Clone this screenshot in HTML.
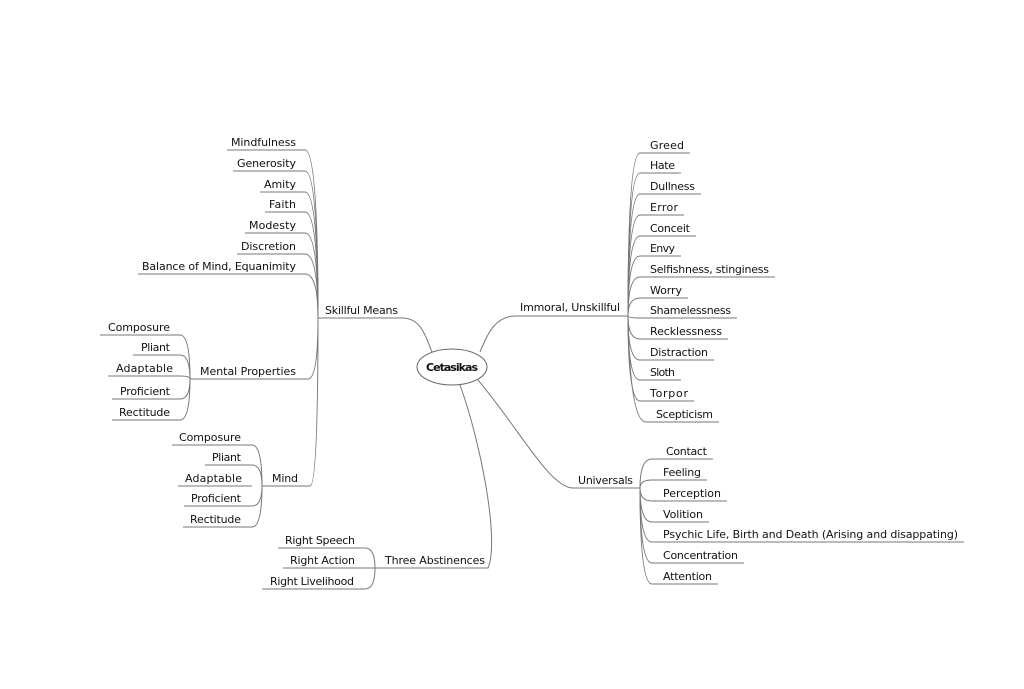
<!DOCTYPE html>
<html><head><meta charset="utf-8"><style>
html,body{margin:0;padding:0;background:#fff;}
svg{display:block;}
text{font-family:"DejaVu Sans","Liberation Sans",sans-serif;font-size:11px;fill:#111;}
path,line{stroke:#777;stroke-width:1;fill:none;}
</style></head><body>
<svg width="1024" height="689" viewBox="0 0 1024 689">
<!-- center -->
<ellipse cx="452" cy="367" rx="35" ry="18" fill="#fff" stroke="#666"/>
<text x="452" y="371" text-anchor="middle" style="font-weight:bold" textLength="52">Cetasikas</text>

<!-- Skillful Means -->
<path d="M318,318 H402 C422,318 426,338 432,352"/>
<text x="325" y="314" textLength="73">Skillful Means</text>
<g>
<path d="M227,150 H305 Q318,150 318,318"/><text x="296" y="146" text-anchor="end" textLength="65">Mindfulness</text>
<path d="M233,171 H305 Q318,171 318,318"/><text x="296" y="167" text-anchor="end" textLength="59">Generosity</text>
<path d="M260,192 H305 Q318,192 318,318"/><text x="296" y="188" text-anchor="end" textLength="32">Amity</text>
<path d="M265,212 H305 Q318,212 318,318"/><text x="296" y="208" text-anchor="end" textLength="27">Faith</text>
<path d="M245,233 H305 Q318,233 318,318"/><text x="296" y="229" text-anchor="end" textLength="47">Modesty</text>
<path d="M237,254 H305 Q318,254 318,318"/><text x="296" y="250" text-anchor="end" textLength="55">Discretion</text>
<path d="M138,274 H305 Q318,274 318,318"/><text x="296" y="270" text-anchor="end" textLength="154">Balance of Mind, Equanimity</text>
</g>

<!-- Mental Properties -->
<path d="M190,379 H308 Q318,379 318,318"/>
<text x="296" y="375" text-anchor="end" textLength="96">Mental Properties</text>
<path d="M100,335 H180 Q190,335 190,379"/><text x="170" y="331" text-anchor="end" textLength="62">Composure</text>
<path d="M133,355 H180 Q190,355 190,379"/><text x="170" y="351" text-anchor="end" textLength="29">Pliant</text>
<path d="M108,376 H180 Q190,376 190,379"/><text x="173" y="372" text-anchor="end" textLength="57">Adaptable</text>
<path d="M112,399 H180 Q190,399 190,379"/><text x="170" y="395" text-anchor="end" textLength="50">Proficient</text>
<path d="M112,420 H180 Q190,420 190,379"/><text x="170" y="416" text-anchor="end" textLength="51">Rectitude</text>

<!-- Mind -->
<path d="M262,486 H310 Q318,486 318,318"/>
<text x="272" y="482" textLength="26">Mind</text>
<path d="M172,445 H252 Q262,445 262,486"/><text x="241" y="441" text-anchor="end" textLength="62">Composure</text>
<path d="M205,465 H252 Q262,465 262,486"/><text x="241" y="461" text-anchor="end" textLength="29">Pliant</text>
<path d="M178,486 H252"/><text x="242" y="482" text-anchor="end" textLength="57">Adaptable</text>
<path d="M184,506 H252 Q262,506 262,486"/><text x="241" y="502" text-anchor="end" textLength="50">Proficient</text>
<path d="M183,527 H252 Q262,527 262,486"/><text x="241" y="523" text-anchor="end" textLength="51">Rectitude</text>

<!-- Three Abstinences -->
<path d="M375,568 H488 C500,540 480,440 460,385"/>
<text x="385" y="564" textLength="100">Three Abstinences</text>
<path d="M278,548 H365 Q375,548 375,568"/><text x="355" y="544" text-anchor="end" textLength="70">Right Speech</text>
<path d="M283,568 H375"/><text x="355" y="564" text-anchor="end" textLength="65">Right Action</text>
<path d="M262,589 H365 Q375,589 375,568"/><text x="354" y="585" text-anchor="end" textLength="84">Right Livelihood</text>

<!-- Immoral, Unskillful -->
<path d="M628,316 H516 C496,316 488,332 480,352"/>
<text x="520" y="311" textLength="100">Immoral, Unskillful</text>
<path d="M690,153 H640 Q628,153 628,316"/><text x="650" y="149" textLength="34">Greed</text>
<path d="M681,173 H640 Q628,173 628,316"/><text x="650" y="169" textLength="25">Hate</text>
<path d="M701,194 H640 Q628,194 628,316"/><text x="650" y="190" textLength="45">Dullness</text>
<path d="M684,215 H640 Q628,215 628,316"/><text x="650" y="211" textLength="28">Error</text>
<path d="M696,236 H640 Q628,236 628,316"/><text x="650" y="232" textLength="40">Conceit</text>
<path d="M681,256 H640 Q628,256 628,316"/><text x="650" y="252" textLength="25">Envy</text>
<path d="M775,277 H640 Q628,277 628,316"/><text x="650" y="273" textLength="119">Selfishness, stinginess</text>
<path d="M688,298 H640 Q628,298 628,316"/><text x="650" y="294" textLength="32">Worry</text>
<path d="M737,318 H640 Q628,318 628,316"/><text x="650" y="314" textLength="81">Shamelessness</text>
<path d="M728,339 H640 Q628,339 628,316"/><text x="650" y="335" textLength="72">Recklessness</text>
<path d="M714,360 H640 Q628,360 628,316"/><text x="650" y="356" textLength="58">Distraction</text>
<path d="M681,380 H640 Q628,380 628,316"/><text x="650" y="376" textLength="25">Sloth</text>
<path d="M694,401 H640 Q628,401 628,316"/><text x="650" y="397" textLength="38">Torpor</text>
<path d="M719,422 H646 Q630,422 628,316"/><text x="656" y="418" textLength="57">Scepticism</text>

<!-- Universals -->
<path d="M640,488 H573 C550,488 520,430 478,380"/>
<text x="578" y="484" textLength="55">Universals</text>
<path d="M713,459 H652 Q640,459 640,488"/><text x="666" y="455" textLength="41">Contact</text>
<path d="M707,480 H652 Q640,480 640,488"/><text x="663" y="476" textLength="38">Feeling</text>
<path d="M727,501 H652 Q640,501 640,488"/><text x="663" y="497" textLength="58">Perception</text>
<path d="M709,522 H652 Q640,522 640,488"/><text x="663" y="518" textLength="40">Volition</text>
<path d="M964,542 H652 Q640,542 640,488"/><text x="663" y="538" textLength="295">Psychic Life, Birth and Death (Arising and disappating)</text>
<path d="M744,563 H652 Q640,563 640,488"/><text x="663" y="559" textLength="75">Concentration</text>
<path d="M718,584 H652 Q640,584 640,488"/><text x="663" y="580" textLength="49">Attention</text>
</svg>
</body></html>
